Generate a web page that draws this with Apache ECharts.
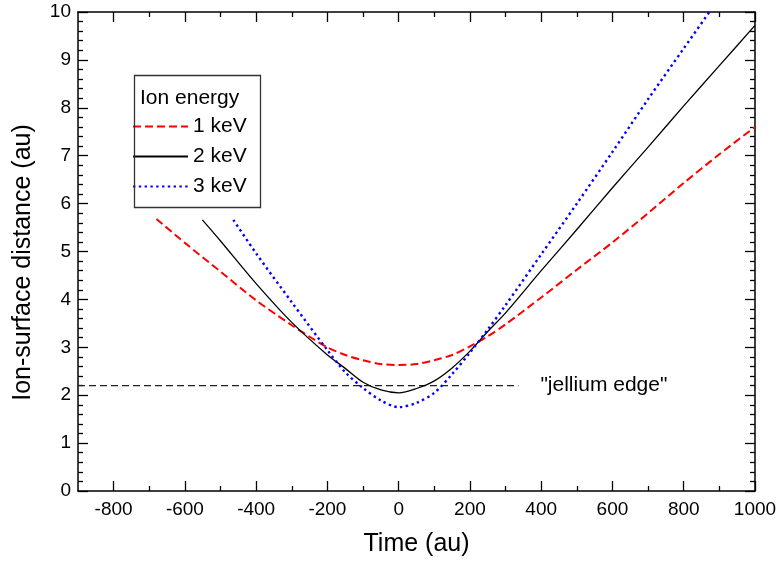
<!DOCTYPE html>
<html>
<head>
<meta charset="utf-8">
<script src="https://cdn.jsdelivr.net/npm/echarts@6/dist/echarts.min.js"></script>
<style>
  html, body { margin: 0; padding: 0; background: #fff; }
  #chart { width: 777px; height: 564px; }
</style>
</head>
<body>
<div id="chart"></div>
<script>
// Ion trajectories: distance from the surface vs. time, for three ion energies
const keV1Time = [-680, -600, -500, -400, -300, -250, -200, -150, -100, -50, 0, 50, 100, 150, 200, 250, 300, 400, 500, 600, 700, 800, 900, 1000];
const keV1Dist = [5.68, 5.18, 4.58, 3.98, 3.46, 3.22, 3.00, 2.84, 2.73, 2.65, 2.63, 2.65, 2.73, 2.84, 3.02, 3.23, 3.48, 4.04, 4.62, 5.19, 5.80, 6.43, 7.03, 7.60];

const keV2Time = [-551, -500, -400, -300, -200, -150, -100, -50, 0, 50, 100, 150, 200, 250, 300, 400, 500, 600, 700, 800, 900, 1000];
const keV2Dist = [5.66, 5.22, 4.33, 3.52, 2.84, 2.56, 2.27, 2.11, 2.05, 2.14, 2.30, 2.57, 2.92, 3.33, 3.72, 4.60, 5.46, 6.33, 7.18, 8.04, 8.88, 9.72];

const keV3Time = [-464, -400, -300, -200, -150, -100, -50, 0, 50, 100, 150, 200, 250, 300, 400, 500, 600, 700, 800, 872];
const keV3Dist = [5.66, 4.96, 3.94, 2.94, 2.48, 2.15, 1.89, 1.75, 1.84, 2.05, 2.44, 2.89, 3.37, 3.88, 4.94, 6.00, 7.08, 8.18, 9.24, 10.0];

// Position of the jellium edge
const jelliumTime = [-900, 336];
const jelliumDist = [2.2, 2.2];

// Axis ticks
const xMajorTicks = [-800, -600, -400, -200, 0, 200, 400, 600, 800, 1000];
const xMinorTicks = [-700, -500, -300, -100, 100, 300, 500, 700, 900];

const FONT = "'Liberation Sans', Arial, Helvetica, sans-serif";

function zip(xs, ys) { return xs.map((x, i) => [x, ys[i]]); }

const chart = echarts.init(document.getElementById('chart'), null, { renderer: 'canvas' });

const axisLine = { show: true, onZero: false, lineStyle: { color: '#000', width: 1.5 } };
const noLine = { show: false, onZero: false };

function xAxisDef(position, ticks, len, showLine, showLabel) {
  return {
    type: 'value', position: position, min: -900, max: 1000,
    axisLine: showLine ? axisLine : noLine,
    axisTick: { show: true, inside: true, length: len, customValues: ticks, lineStyle: { color: '#000', width: 1.3 } },
    axisLabel: showLabel
      ? { show: true, customValues: ticks, color: '#000', fontFamily: FONT, fontSize: 19, margin: 9,
          formatter: v => String(v) }
      : { show: false },
    splitLine: { show: false },
    minorTick: { show: false }
  };
}

const option = {
  backgroundColor: '#fff',
  animation: false,
  grid: { left: 78, right: 22, top: 12, bottom: 73, containLabel: false, outerBoundsMode: 'none' },
  xAxis: [
    Object.assign(xAxisDef('bottom', xMajorTicks, 10, true, true), {
      name: 'Time (au)', nameLocation: 'middle', nameGap: 41,
      nameTextStyle: { color: '#000', fontFamily: FONT, fontSize: 25 }
    }),
    xAxisDef('bottom', xMinorTicks, 5, false, false),
    xAxisDef('top', xMajorTicks, 10, true, false),
    xAxisDef('top', xMinorTicks, 5, false, false)
  ],
  yAxis: [
    {
      type: 'value', position: 'left', min: 0, max: 10, interval: 1,
      name: 'Ion-surface distance (au)', nameLocation: 'middle', nameGap: 42,
      nameTextStyle: { color: '#000', fontFamily: FONT, fontSize: 25, padding: [0, 22, 0, 0] },
      axisLine: axisLine,
      axisTick: { show: true, inside: true, length: 10, lineStyle: { color: '#000', width: 1.3 } },
      minorTick: { show: true, splitNumber: 5, length: 5, lineStyle: { color: '#000', width: 1.3 } },
      axisLabel: { color: '#000', fontFamily: FONT, fontSize: 19, margin: 7 },
      splitLine: { show: false }
    },
    {
      type: 'value', position: 'right', min: 0, max: 10, interval: 1,
      axisLine: axisLine,
      axisTick: { show: true, inside: true, length: 10, lineStyle: { color: '#000', width: 1.3 } },
      minorTick: { show: true, splitNumber: 5, length: 5, lineStyle: { color: '#000', width: 1.3 } },
      axisLabel: { show: false },
      splitLine: { show: false }
    }
  ],
  legend: {
    data: ['1 keV', '2 keV', '3 keV'],
    orient: 'vertical',
    left: 132, top: 116,
    padding: 0,
    itemWidth: 55, itemHeight: 20, itemGap: 9,
    itemStyle: { opacity: 0 },
    textStyle: { color: '#000', fontFamily: FONT, fontSize: 21, lineHeight: 20 },
    selectedMode: false
  },
  graphic: [
    {
      type: 'rect', left: 132, top: 73, z: 100,
      shape: { width: 126, height: 132 },
      style: { fill: 'none', stroke: '#333', lineWidth: 1.3 }
    },
    {
      type: 'text', left: 140, top: 88, z: 100,
      style: { text: 'Ion energy', fill: '#000', font: "21px 'Liberation Sans', Arial, sans-serif" }
    }
  ],
  series: [
    {
      name: 'jellium edge', type: 'line', data: zip(jelliumTime, jelliumDist),
      showSymbol: false, symbol: 'none', silent: true,
      lineStyle: { color: '#222', width: 1.3, type: [7, 4] },
      endLabel: {
        show: true, formatter: '"jellium edge"', distance: 22,
        color: '#000', fontFamily: FONT, fontSize: 21
      }
    },
    {
      name: '1 keV', type: 'line', data: zip(keV1Time, keV1Dist),
      smooth: 0.3, showSymbol: false, symbol: 'none',
      itemStyle: { color: '#ff0000' },
      lineStyle: { color: '#ff0000', width: 2, type: [8, 4] }
    },
    {
      name: '2 keV', type: 'line', data: zip(keV2Time, keV2Dist),
      smooth: 0.3, showSymbol: false, symbol: 'none',
      itemStyle: { color: '#000' },
      lineStyle: { color: '#000', width: 1.3, type: 'solid' }
    },
    {
      name: '3 keV', type: 'line', data: zip(keV3Time, keV3Dist),
      smooth: 0.3, showSymbol: false, symbol: 'none',
      itemStyle: { color: '#0000ff' },
      lineStyle: { color: '#0000ff', width: 2.4, type: [2.4, 3.4] }
    }
  ]
};

chart.setOption(option);
</script>
</body>
</html>
